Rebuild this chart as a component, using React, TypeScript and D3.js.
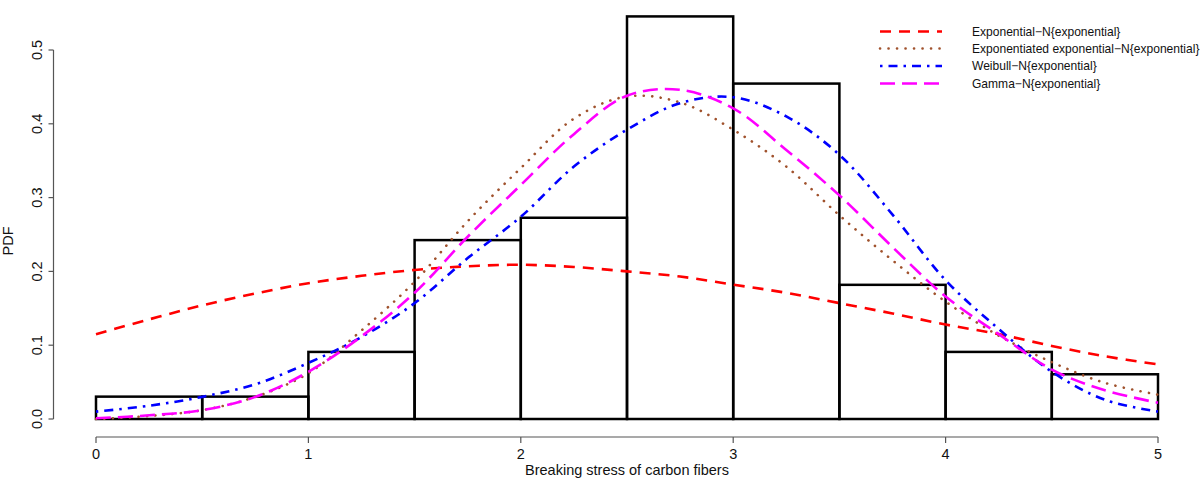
import React from "react";
import * as d3 from "d3";

const binEdges = [0, 0.5, 1, 1.5, 2, 2.5, 3, 3.5, 4, 4.5, 5];
const binDensity = [0.0303, 0.0303, 0.0909, 0.2424, 0.2727, 0.5455, 0.4545, 0.1818, 0.0909, 0.0606];

const xGrid = [0, 0.25, 0.5, 0.75, 1, 1.25, 1.5, 1.75, 2, 2.25, 2.5, 2.75, 3, 3.25, 3.5, 3.75, 4, 4.25, 4.5, 4.75, 5];
const expN = [0.115, 0.135, 0.154, 0.170, 0.184, 0.194, 0.202, 0.207, 0.209, 0.206, 0.200, 0.193, 0.182, 0.171, 0.157, 0.143, 0.128, 0.115, 0.099, 0.085, 0.074];
const expExpN = [0.000, 0.004, 0.012, 0.030, 0.062, 0.120, 0.186, 0.268, 0.340, 0.407, 0.437, 0.429, 0.392, 0.342, 0.276, 0.215, 0.159, 0.113, 0.077, 0.049, 0.033];
const weibullN = [0.010, 0.018, 0.030, 0.047, 0.076, 0.111, 0.157, 0.218, 0.274, 0.342, 0.392, 0.428, 0.436, 0.410, 0.358, 0.277, 0.188, 0.122, 0.064, 0.026, 0.010];
const gammaN = [0.001, 0.005, 0.012, 0.030, 0.064, 0.112, 0.171, 0.247, 0.317, 0.386, 0.438, 0.446, 0.421, 0.3645, 0.303, 0.233, 0.166, 0.115, 0.067, 0.039, 0.022];

const xTicks = [0, 1, 2, 3, 4, 5];
const yTicks = [0, 0.1, 0.2, 0.3, 0.4, 0.5];

const seriesNames = [
  "Exponential\u2212N{exponential}",
  "Exponentiated exponential\u2212N{exponential}",
  "Weibull\u2212N{exponential}",
  "Gamma\u2212N{exponential}",
];
const seriesValues = [expN, expExpN, weibullN, gammaN];
const seriesColors = ["#ff0000", "#a0522d", "#0000ff", "#ff00ff"];
const seriesDash = ["11 8", "0.1 8.4", "2.5 6 9 6", "15 7"];
const seriesCap = ["butt", "round", "butt", "butt"];

const FONT = "'Liberation Sans', Arial, Helvetica, sans-serif";

export default function App() {
  const W = 1200;
  const H = 480;
  const x = d3.scaleLinear().domain([0, 5]).range([96, 1158]);
  const y = d3.scaleLinear().domain([0, 0.5]).range([419, 50]);
  const line = d3
    .line<number>()
    .x((_, i) => x(xGrid[i]))
    .y((d) => y(d))
    .curve(d3.curveCatmullRom.alpha(0.5));

  const axisY = 437;
  const axisX = 53.5;

  return (
    <svg
      width={W}
      height={H}
      style={{ position: "absolute", left: 0, top: 0, background: "#fff" }}
      fontFamily={FONT}
    >
      <rect x={0} y={0} width={W} height={H} fill="#fff" />
      {/* histogram */}
      {binDensity.map((d, i) => (
        <rect
          key={i}
          x={x(binEdges[i])}
          y={y(d)}
          width={x(binEdges[i + 1]) - x(binEdges[i])}
          height={y(0) - y(d)}
          fill="none"
          stroke="#000"
          strokeWidth={2.5}
        />
      ))}
      {/* curves */}
      {seriesValues.map((vals, k) => (
        <path
          key={k}
          d={line(vals) || ""}
          fill="none"
          stroke={seriesColors[k]}
          strokeWidth={k === 1 ? 2.6 : 2.6}
          strokeDasharray={seriesDash[k]}
          strokeLinecap={seriesCap[k] as any}
        />
      ))}
      {/* x axis */}
      <line x1={x(0)} x2={x(5)} y1={axisY} y2={axisY} stroke="#555" strokeWidth={1.2} />
      {xTicks.map((t) => (
        <g key={t}>
          <line x1={x(t)} x2={x(t)} y1={axisY} y2={axisY + 6} stroke="#555" strokeWidth={1.2} />
          <text x={x(t)} y={458.5} textAnchor="middle" fontSize={14.5} fill="#111">
            {String(t)}
          </text>
        </g>
      ))}
      <text x={(x(0) + x(5)) / 2} y={474.5} textAnchor="middle" fontSize={14.5} fill="#111">
        Breaking stress of carbon fibers
      </text>
      {/* y axis */}
      <line x1={axisX} x2={axisX} y1={y(0)} y2={y(0.5)} stroke="#555" strokeWidth={1.2} />
      {yTicks.map((t) => (
        <g key={t}>
          <line x1={axisX - 5} x2={axisX} y1={y(t)} y2={y(t)} stroke="#555" strokeWidth={1.2} />
          <text
            transform={`translate(42,${y(t)}) rotate(-90)`}
            textAnchor="middle"
            fontSize={14.5}
            fill="#111"
          >
            {t.toFixed(1)}
          </text>
        </g>
      ))}
      <text transform={`translate(12.5,241) rotate(-90)`} textAnchor="middle" fontSize={14.5} fill="#111">
        PDF
      </text>
      {/* legend */}
      {seriesNames.map((name, k) => {
        const ly = [31.5, 48.5, 66, 83.5][k];
        return (
          <g key={name}>
            <line
              x1={880}
              x2={942}
              y1={ly}
              y2={ly}
              stroke={seriesColors[k]}
              strokeWidth={2.6}
              strokeDasharray={seriesDash[k]}
              strokeLinecap={seriesCap[k] as any}
            />
            <text x={972} y={ly} dominantBaseline="central" fontSize={12.05} fill="#111">
              {name}
            </text>
          </g>
        );
      })}
    </svg>
  );
}
